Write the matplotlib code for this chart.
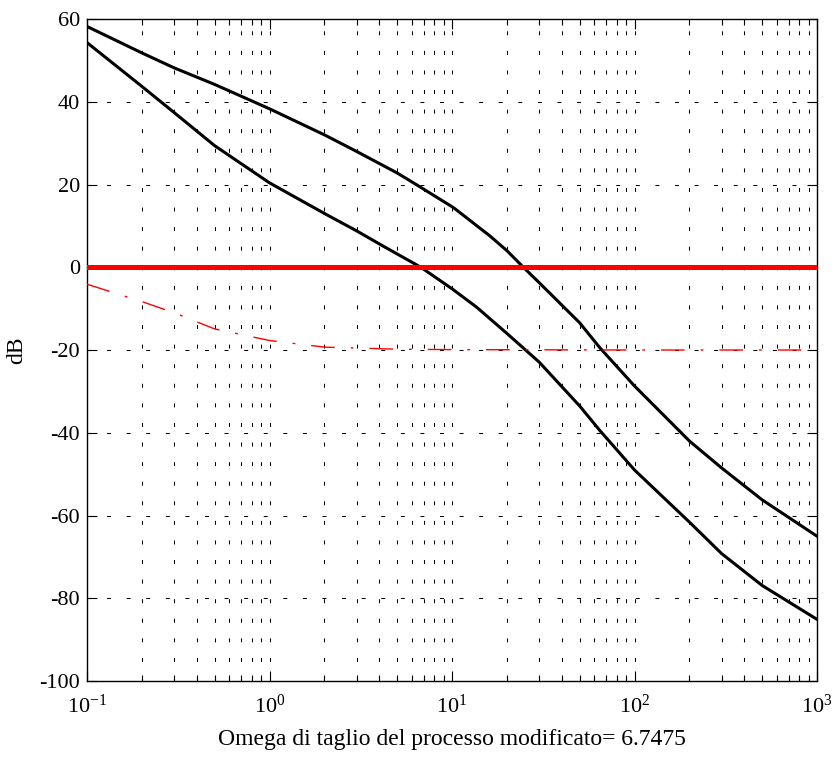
import matplotlib
matplotlib.use("Agg")
import matplotlib.pyplot as plt
from matplotlib.ticker import LogLocator, LogFormatterMathtext, NullFormatter

# frequencies (rad/s) where the process curve was read
omega_p = [0.1, 0.2, 0.3, 0.5, 1, 2, 3, 5, 5.89, 6.75, 10.2, 16.1, 20, 24.6,
           30, 50, 64.7, 100, 200, 300, 500, 1000]
# magnitude of the process (upper curve), dB
mag_process = [58.2, 51.8, 48.2, 44.2, 38.3, 32.0, 28.0, 22.8, 20.9, 19.3,
               14.4, 7.6, 4.0, 0.0, -3.7, -13.4, -19.5, -28.7, -42.0, -48.5,
               -56.2, -65.0]
# frequencies where the modified process curve was read
omega_m = [0.1, 0.2, 0.3, 0.5, 1, 2, 3, 4.2, 6.75, 10, 13.6, 20, 30, 50,
           64.7, 100, 200, 300, 500, 1000]
# magnitude of the modified process (lower curve), dB
mag_modified = [54.3, 43.7, 37.4, 29.4, 20.4, 13.0, 8.8, 5.1, 0.0, -5.2,
                -9.6, -16.0, -22.9, -33.5, -39.5, -49.0, -61.6, -69.2,
                -76.9, -85.1]
# lag network magnitude (red dash-dot), dB
omega_lag = [0.1, 0.2, 0.3, 0.5, 1, 2, 5, 10, 100, 1000]
mag_lag = [-4.1, -8.3, -11.0, -14.9, -17.7, -19.3, -19.8, -19.9, -20.0, -20.0]

yticks = [-100, -80, -60, -40, -20, 0, 20, 40, 60]
xlabel_text = "Omega di taglio del processo modificato= 6.7475"


def main():
    plt.rcParams["font.family"] = ["Liberation Serif", "DejaVu Serif"]
    plt.rcParams["mathtext.fontset"] = "custom"
    plt.rcParams["mathtext.rm"] = "Liberation Serif"
    plt.rcParams["axes.unicode_minus"] = False

    fig = plt.figure(figsize=(8.32, 7.61), dpi=100)
    ax = fig.add_axes([0.1046, 0.1051, 0.8774, 0.8699])

    # dotted grid, drawn under the curves
    grid_style = dict(color="black", linewidth=0.75, dashes=(3.8, 15))
    for dec in [0.1, 1, 10, 100]:
        for k in range(1, 10):
            w = dec * k
            if w > 0.1:
                ax.axvline(w, zorder=1, **grid_style)
    for y in yticks[1:-1]:
        ax.axhline(y, zorder=1, **grid_style)

    ax.semilogx(omega_p, mag_process, color="black", linewidth=2.2, zorder=3)
    ax.semilogx(omega_m, mag_modified, color="black", linewidth=2.2, zorder=3)
    ax.axhline(0, color="#ff0000", linewidth=3.6, zorder=4)
    ax.semilogx(omega_lag, mag_lag, color="#ff0000", linewidth=1.0,
                dashes=(17, 11.5, 2, 11.5), zorder=3)

    ax.set_xlim(0.1, 1000)
    ax.set_ylim(-100, 60)
    ax.set_yticks(yticks)
    ax.xaxis.set_major_locator(LogLocator(base=10, numticks=10))
    ax.xaxis.set_major_formatter(LogFormatterMathtext())
    ax.xaxis.set_minor_locator(LogLocator(base=10, subs=range(2, 10), numticks=20))
    ax.xaxis.set_minor_formatter(NullFormatter())

    ax.tick_params(which="both", direction="in", top=True, right=True,
                   labelsize=16, colors="black")
    ax.tick_params(which="major", length=7, width=0.8)
    ax.tick_params(which="minor", length=4, width=0.8)
    ax.tick_params(axis="x", which="major", pad=10)
    ax.tick_params(axis="y", which="major", pad=5)
    for s in ax.spines.values():
        s.set_linewidth(1.0)

    ax.set_xlabel(xlabel_text, fontsize=17, labelpad=8)
    ax.set_ylabel("dB", fontsize=17, labelpad=9)

    fig.savefig("out.png", dpi=100)


if __name__ == "__main__":
    main()
